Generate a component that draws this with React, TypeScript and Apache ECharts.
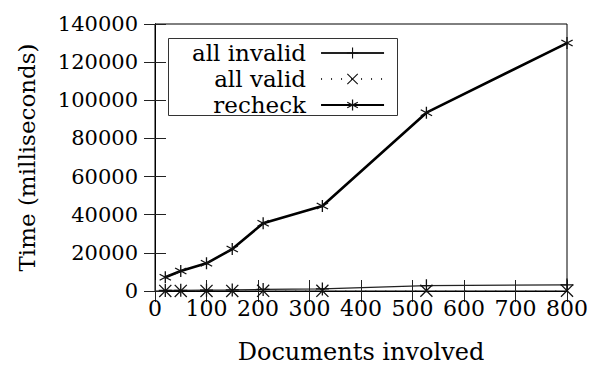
import React, { useEffect, useRef } from "react";
import * as echarts from "echarts";

// Number of documents involved in each run
const documents = [20, 50, 100, 150, 210, 325, 527, 800];

// Time in milliseconds per scenario
const allInvalid = [300, 350, 450, 550, 800, 1100, 2800, 3200];
const allValid = [50, 50, 50, 60, 80, 100, 120, 150];
const recheck = [7200, 10500, 14500, 22000, 35500, 44600, 93500, 130000];

const seriesNames = ["all invalid", "all valid", "recheck"];

const xTicks = { min: 0, max: 800, interval: 100 };
const yTicks = { min: 0, max: 140000, interval: 20000 };

// Marker shapes: plus, cross and six-armed asterisk
const PLUS = "path://M45 0 H55 V45 H100 V55 H55 V100 H45 V55 H0 V45 H45 Z";
const CROSS = "path://M0 7 L7 0 L100 93 L93 100 Z M93 0 L100 7 L7 100 L0 93 Z";
const ASTERISK =
  "path://M45 0 L55 0 L55 100 L45 100 Z M9.2 20.67 L95.8 70.67 L90.8 79.33 L4.2 29.33 Z M90.8 20.67 L95.8 29.33 L9.2 79.33 L4.2 70.67 Z";

const FONT = "DejaVu Serif";

const pairs = (ys: number[]) => documents.map((x, i) => [x, ys[i]]);
const plain = (v: number) => String(v);

export default function App() {
  const ref = useRef<HTMLDivElement>(null);

  useEffect(() => {
    if (!ref.current) return;
    const chart = echarts.init(ref.current, null, { renderer: "svg" });

    const tickStyle = { color: "#222", width: 1 };
    const axisCommon = {
      type: "value" as const,
      splitLine: { show: false },
      axisLine: { show: true, lineStyle: { color: "#000", width: 1 } },
      axisTick: { show: true, inside: true, length: 11, lineStyle: tickStyle },
    };

    chart.setOption({
      animation: false,
      backgroundColor: "#fff",
      textStyle: { fontFamily: FONT, color: "#000" },
      grid: {
        left: 155,
        right: 22,
        top: 24,
        bottom: 76,
        outerBoundsMode: "none",
        show: true,
        borderColor: "#000",
        borderWidth: 1,
      },
      // frame behind the legend entries
      graphic: [
        {
          type: "rect",
          z: 5,
          shape: { x: 168.5, y: 38.5, width: 229, height: 77 },
          style: { fill: "#fff", stroke: "#333", lineWidth: 1 },
        },
      ],
      legend: {
        data: seriesNames,
        orient: "vertical",
        align: "right",
        left: 192,
        top: 41,
        z: 6,
        itemWidth: 63,
        itemHeight: 14,
        itemGap: 2,
        padding: 0,
        textStyle: {
          fontFamily: FONT,
          fontSize: 23,
          color: "#000",
          lineHeight: 24,
          padding: [0, 10, 0, 0],
        },
      },
      xAxis: [
        {
          ...axisCommon,
          ...xTicks,
          position: "bottom",
          name: "Documents involved",
          nameLocation: "middle",
          nameGap: 49,
          nameTextStyle: { fontFamily: FONT, fontSize: 24, color: "#000", lineHeight: 24 },
          axisLabel: { fontFamily: FONT, fontSize: 22, color: "#000", margin: 6, formatter: plain },
        },
        {
          ...axisCommon,
          ...xTicks,
          position: "top",
          axisLabel: { show: false },
        },
      ],
      yAxis: [
        {
          ...axisCommon,
          ...yTicks,
          position: "left",
          name: "Time (milliseconds)",
          nameLocation: "middle",
          nameGap: 117,
          nameTextStyle: { fontFamily: FONT, fontSize: 23, color: "#000" },
          axisLabel: { fontFamily: FONT, fontSize: 21, color: "#000", margin: 17, formatter: plain },
        },
        {
          ...axisCommon,
          ...yTicks,
          position: "right",
          axisLabel: { show: false },
        },
      ],
      series: [
        {
          name: seriesNames[0],
          type: "line",
          data: pairs(allInvalid),
          symbol: PLUS,
          symbolSize: 13,
          showAllSymbol: true,
          itemStyle: { color: "#111" },
          lineStyle: { color: "#222", width: 1.2 },
          z: 3,
        },
        {
          name: seriesNames[1],
          type: "line",
          data: pairs(allValid),
          symbol: CROSS,
          symbolSize: 13,
          itemStyle: { color: "#111" },
          lineStyle: { color: "#333", width: 1, type: [1, 9] },
          z: 3,
        },
        {
          name: seriesNames[2],
          type: "line",
          data: pairs(recheck),
          symbol: ASTERISK,
          symbolSize: 12,
          itemStyle: { color: "#111" },
          lineStyle: { color: "#000", width: 2.6 },
          z: 4,
        },
      ],
    });

    return () => chart.dispose();
  }, []);

  return <div ref={ref} style={{ width: 589, height: 367, position: "fixed", left: 0, top: 0 }} />;
}
